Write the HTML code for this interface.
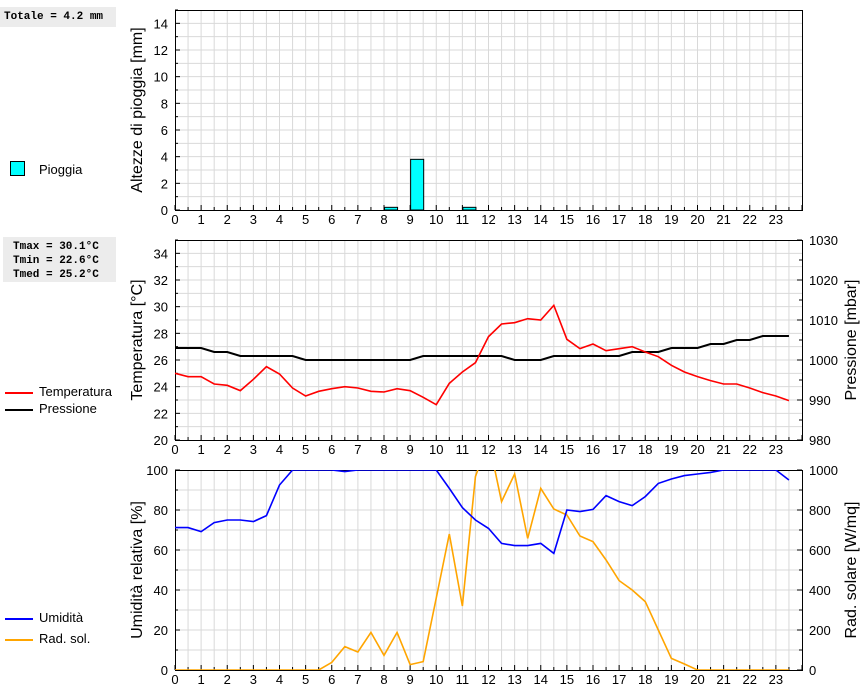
<!DOCTYPE html>
<html><head><meta charset="utf-8"><style>
body{margin:0;background:#fff;width:860px;height:690px;overflow:hidden;font-family:"Liberation Sans",sans-serif}
</style></head><body>
<svg id="chart" width="860" height="690" xmlns="http://www.w3.org/2000/svg" font-family="Liberation Sans, sans-serif"></svg>
<script>
const hours=[0,0.5,1,1.5,2,2.5,3,3.5,4,4.5,5,5.5,6,6.5,7,7.5,8,8.5,9,9.5,10,10.5,11,11.5,12,12.5,13,13.5,14,14.5,15,15.5,16,16.5,17,17.5,18,18.5,19,19.5,20,20.5,21,21.5,22,22.5,23,23.5];
const rainHours=[8,9,11];
const rainValues=[0.2,3.8,0.2];
const tempValues=[25.0,24.75,24.75,24.2,24.1,23.7,24.55,25.5,24.95,23.9,23.3,23.65,23.85,24.0,23.9,23.65,23.6,23.85,23.7,23.2,22.65,24.25,25.1,25.8,27.75,28.7,28.8,29.1,29.0,30.1,27.55,26.85,27.2,26.7,26.85,27.0,26.6,26.25,25.6,25.1,24.75,24.45,24.2,24.2,23.9,23.55,23.3,22.95];
const pressValues=[1003,1003,1003,1002,1002,1001,1001,1001,1001,1001,1000,1000,1000,1000,1000,1000,1000,1000,1000,1001,1001,1001,1001,1001,1001,1001,1000,1000,1000,1001,1001,1001,1001,1001,1001,1002,1002,1002,1003,1003,1003,1004,1004,1005,1005,1006,1006,1006];
const humValues=[71.2,71.2,69.2,73.7,75,75,74.2,77.2,92.5,100,100,100,100,99.2,100,100,100,100,100,100,100,90.8,81.2,75,70.8,63.3,62.2,62.2,63.3,58.3,80,79.2,80.3,87.2,84.2,82.2,86.7,93.3,95.5,97.2,98,98.8,100,100,100,100,100,95];
const radValues=[0,0,0,0,0,0,0,0,0,0,0,0,38,117,90,188,73,188,27,42,360,680,320,967,1150,842,980,658,908,805,775,670,642,550,447,400,342,200,58,30,0,0,0,0,0,0,0,0];
const xTicks=[0,1,2,3,4,5,6,7,8,9,10,11,12,13,14,15,16,17,18,19,20,21,22,23];

const svg=document.getElementById('chart');
const NS='http://www.w3.org/2000/svg';
const X0=175,X1=802;
const xs=h=>X0+h*(X1-X0)/24;
function el(tag,attrs,parent){const e=document.createElementNS(NS,tag);for(const k in attrs)e.setAttribute(k,attrs[k]);(parent||svg).appendChild(e);return e;}
function txt(s,attrs,parent){const e=el('text',attrs,parent);e.textContent=s;return e;}

function panel(name,top,bottom,ymin,ymax,minorStep,majorStep,gridStep){
  const g=el('g',{});
  
  
  const ys=v=>bottom-(v-ymin)*(bottom-top)/(ymax-ymin);
  for(let h=0.5;h<24;h+=0.5){const l=el('line',{x1:xs(h),x2:xs(h),y1:top,y2:bottom,stroke:'#d9d9d9','stroke-width':1},g);}
  for(let v=ymin+gridStep;v<ymax;v+=gridStep){const l=el('line',{x1:X0,x2:X1,y1:ys(v),y2:ys(v),stroke:'#d9d9d9','stroke-width':1},g);}
  for(let v=ymin;v<=ymax;v+=minorStep){const major=Math.abs((v-ymin)/majorStep-Math.round((v-ymin)/majorStep))<1e-6;el('line',{x1:X0,x2:X0+(major?5:3),y1:ys(v),y2:ys(v),stroke:'#000'},g);}
  for(let h=0;h<=24;h+=0.5){const major=h%1===0;el('line',{x1:xs(h),x2:xs(h),y1:bottom,y2:bottom-(major?5:3),stroke:'#000'},g);}
  xTicks.forEach(h=>{const t=txt(String(h),{x:xs(h),y:bottom+14,'font-size':13,'text-anchor':'middle',fill:'#000'},g);});
  return {g,ys};
}
function frame(g,top,bottom){const r=el('rect',{x:X0+0.5,y:top+0.5,width:X1-X0,height:bottom-top,fill:'none',stroke:'#000'},g);}
function yLabels(g,ys,vals,x,anchor,fmt){vals.forEach(v=>{const t=txt(String(v),{x:x,y:ys(v)+5,'font-size':13,'text-anchor':anchor},g);});}
function title(s,x,y,name){const t=txt(s,{x:x,y:y,'font-size':16,'text-anchor':'middle',transform:`rotate(-90 ${x} ${y})`});}
function line(vals,ys,color,name,clipId,w){const p=el('polyline',{points:vals.map((v,i)=>xs(hours[i])+','+ys(v)).join(' '),fill:'none',stroke:color,'stroke-width':w||1.6,'clip-path':`url(#${clipId})`});}
const defs=el('defs',{});
function clip(id,top,bottom){const c=el('clipPath',{id:id},defs);el('rect',{x:X0,y:top,width:X1-X0,height:bottom-top},c);}
clip('c2',240,440);clip('c3',470,670);

// Panel 1 rain
const p1=panel('rain-panel',10,210,0,15,1,2,1);
rainHours.forEach((h,i)=>{const b=el('rect',{x:xs(h)+0.5,y:p1.ys(rainValues[i]),width:xs(h+0.5)-xs(h),height:p1.ys(0)-p1.ys(rainValues[i]),fill:'#00ffff',stroke:'#000'},p1.g);});
frame(p1.g,10,210);
yLabels(p1.g,p1.ys,[0,2,4,6,8,10,12,14],168,'end');
title('Altezze di pioggia [mm]',142,110,'rain-y-axis-title');

// Panel 2 temp/pressure
const p2=panel('temp-panel',240,440,20,35,1,2,1);
const ysP=v=>440-(v-980)*200/50;
for(let v=980;v<=1030;v+=5){const major=v%10===0;el('line',{x1:X1,x2:X1-(major?5:3),y1:ysP(v),y2:ysP(v),stroke:'#000'},p2.g);}
line(pressValues,ysP,'#000','pressure-line','c2',2);
line(tempValues,p2.ys,'#ff0000','temperature-line','c2',1.6);
frame(p2.g,240,440);
yLabels(p2.g,p2.ys,[20,22,24,26,28,30,32,34],168,'end');
yLabels(p2.g,ysP,[980,990,1000,1010,1020,1030],809,'start');
title('Temperatura [°C]',142,340,'temp-y-axis-title');
title('Pressione [mbar]',856,340,'pressure-y-axis-title');

// Panel 3 humidity/radiation
const p3=panel('humidity-panel',470,670,0,100,10,20,10);
const ysR=v=>670-v*200/1000;
for(let v=0;v<=1000;v+=100){const major=v%200===0;el('line',{x1:X1,x2:X1-(major?5:3),y1:ysR(v),y2:ysR(v),stroke:'#000'},p3.g);}
line(radValues,ysR,'#ffa500','radiation-line','c3',1.6);
line(humValues,p3.ys,'#0000ff','humidity-line','c3',1.6);
frame(p3.g,470,670);
yLabels(p3.g,p3.ys,[0,20,40,60,80,100],168,'end');
yLabels(p3.g,ysR,[0,200,400,600,800,1000],809,'start');
title('Umidità relativa [%]',142,570,'humidity-y-axis-title');
title('Rad. solare [W/mq]',856,570,'radiation-y-axis-title');
</script>
<div style="position:absolute;left:0;top:7px;width:116px;height:20px;background:#ececec;font:bold 11px 'Liberation Mono',monospace;line-height:20px;padding-left:4px;box-sizing:border-box">Totale = 4.2 mm</div>
<div style="position:absolute;left:3px;top:237px;width:113px;height:45px;background:#ececec;font:bold 11px 'Liberation Mono',monospace;line-height:14px;padding:3px 0 0 10px;box-sizing:border-box">Tmax = 30.1°C<br>Tmin = 22.6°C<br>Tmed = 25.2°C</div>
<div style="position:absolute;left:10px;top:161px;font-size:13px">
<span style="position:absolute;left:0;top:0;width:13px;height:13px;background:#00ffff;border:1px solid #000"></span>
<span style="position:absolute;left:29px;top:1px;white-space:nowrap">Pioggia</span></div>
<div style="position:absolute;left:5px;top:384px;font-size:13px;white-space:nowrap"><span style="display:inline-block;width:28px;height:2px;background:#f00;vertical-align:middle"></span><span style="margin-left:6px">Temperatura</span></div>
<div style="position:absolute;left:5px;top:401px;font-size:13px;white-space:nowrap"><span style="display:inline-block;width:28px;height:2px;background:#000;vertical-align:middle"></span><span style="margin-left:6px">Pressione</span></div>
<div style="position:absolute;left:5px;top:610px;font-size:13px;white-space:nowrap"><span style="display:inline-block;width:28px;height:2px;background:#00f;vertical-align:middle"></span><span style="margin-left:6px">Umidità</span></div>
<div style="position:absolute;left:5px;top:631px;font-size:13px;white-space:nowrap"><span style="display:inline-block;width:28px;height:2px;background:#ffa500;vertical-align:middle"></span><span style="margin-left:6px">Rad. sol.</span></div>
</body></html>
